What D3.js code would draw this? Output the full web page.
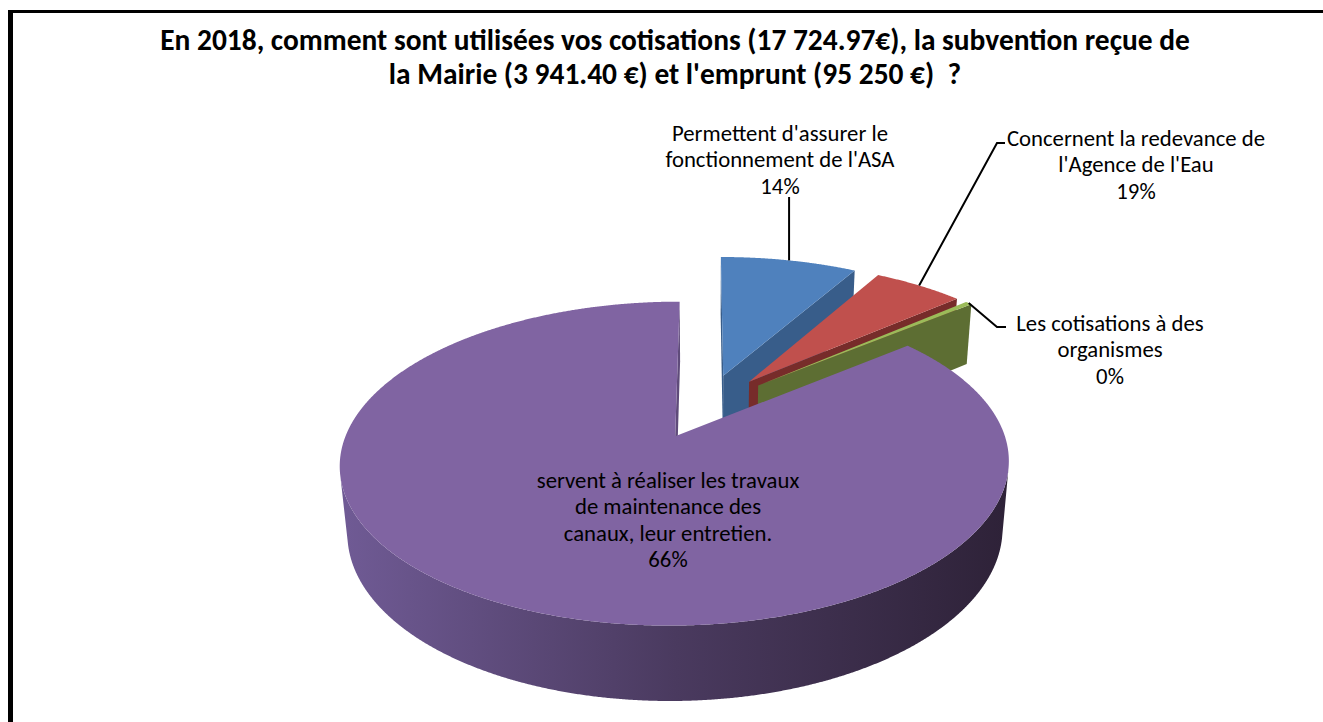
<!DOCTYPE html>
<html lang="fr">
<head>
<meta charset="UTF-8">
<title>Utilisation des cotisations 2018</title>
<script src="https://d3js.org/d3.v7.min.js"></script>
<style>
  body { margin: 0; background: #fff; font-family: Carlito, Calibri, Lato, sans-serif; }
  .title { font-weight: bold; fill: #000; white-space: pre; }
  .lbl { fill: #000; }
  .leader { fill: none; stroke: #000; stroke-width: 2px; }
</style>
</head>
<body>
<svg width="1323" height="722"></svg>
<script>
// data (slices clockwise from 12 o'clock)
const categories = [
  "Permettent d'assurer le fonctionnement de l'ASA",
  "Concernent la redevance de l'Agence de l'Eau",
  "Les cotisations à des organismes",
  "servent à réaliser les travaux de maintenance des canaux, leur entretien."
];
// slice sizes as drawn in the picture (% of the circle)
const shares = [8.2, 5.4, 0.4, 86.0];
// percentages printed on the data labels
const pctLabels = ["14%", "19%", "0%", "66%"];
const labelLines = [
  ["Permettent d'assurer le", "fonctionnement de l'ASA"],
  ["Concernent la redevance de", "l'Agence de l'Eau"],
  ["Les cotisations à des", "organismes"],
  ["servent à réaliser les travaux", "de maintenance des", "canaux, leur entretien."]
];
const titleLines = [
  "En 2018, comment sont utilisées vos cotisations (17 724.97€), la subvention reçue de",
  "la Mairie (3 941.40 €) et l'emprunt (95 250 €)  ?"
];

const topColors  = ["#4F81BD", "#C0504D", "#9BBB59", "#8064A2"];
const sideColors = ["#385D8A", "#772C2A", "#5D6E33", "#5F4B7A"];

const svg = d3.select("svg");

// frame
svg.append("line").attr("x1", 10.5).attr("y1", 10).attr("x2", 10.5).attr("y2", 722)
  .attr("stroke", "#000").attr("stroke-width", 5);
svg.append("line").attr("x1", 8).attr("y1", 11.5).attr("x2", 1323).attr("y2", 11.5)
  .attr("stroke", "#000").attr("stroke-width", 3);

// title, sized so the first line spans like the original
const title = svg.append("g");
titleLines.forEach((t, i) => {
  title.append("text").attr("class", "title")
    .attr("x", 675).attr("y", 50 + i * 34)
    .attr("text-anchor", "middle")
    .style("font-size", "22px")
    .text(t);
});
const tw = title.select("text").node().getComputedTextLength();
title.selectAll("text").style("font-size", (22 * 1030 / tw).toFixed(2) + "px");

// 3D perspective pie
const cx = 706, cy = 406, R = 319, H = 75, D = 1730, explode = 70;
const phi = 27.5 * Math.PI / 180;
const sinP = Math.sin(phi), cosP = Math.cos(phi);
const cam = [0, D * sinP, -D * cosP];

function project(X, Y, Z) {
  const v = Y * cosP + Z * sinP;
  const d = Z * cosP - Y * sinP;
  const s = D / (D + d);
  return [cx + X * s, cy - v * s];
}
function facing(n, p) {
  return n[0] * (cam[0] - p[0]) + n[1] * (cam[1] - p[1]) + n[2] * (cam[2] - p[2]) > 0;
}

const pie = d3.pie().sort(null).value(d => d);
const slices = pie(shares).map((a, i) => {
  const t0 = Math.PI / 2 - a.endAngle, t1 = Math.PI / 2 - a.startAngle;
  const tm = (t0 + t1) / 2;
  return { i, t0, t1, tm, ox: explode * Math.cos(tm), oz: explode * Math.sin(tm) };
});

const pt = (s, r, t, Y) => project(s.ox + r * Math.cos(t), Y, s.oz + r * Math.sin(t));
const poly = d3.line();
const closed = pts => poly(pts) + "Z";

const defs = svg.append("defs");
const grad = defs.append("linearGradient").attr("id", "wall")
  .attr("gradientUnits", "userSpaceOnUse")
  .attr("x1", cx - R - 40).attr("x2", cx + R - 20).attr("y1", 0).attr("y2", 0);
grad.append("stop").attr("offset", 0).attr("stop-color", "#6F5A94");
grad.append("stop").attr("offset", 0.5).attr("stop-color", "#4A3A5F");
grad.append("stop").attr("offset", 1).attr("stop-color", "#2E2238");

const pieG = svg.append("g");

function arcPts(s, a, b, Y) {
  const n = Math.max(2, Math.ceil(Math.abs(b - a) / 0.004));
  return d3.range(n + 1).map(k => pt(s, R, a + (b - a) * k / n, Y));
}

// farthest slice first
slices.slice().sort((a, b) => b.oz - a.oz).forEach(s => {
  const g = pieG.append("g");
  // outer wall, visible runs only
  const n = Math.max(2, Math.ceil((s.t1 - s.t0) / 0.004));
  let run = [];
  const runs = [];
  for (let k = 0; k <= n; k++) {
    const t = s.t0 + (s.t1 - s.t0) * k / n;
    const p = [s.ox + R * Math.cos(t), -H / 2, s.oz + R * Math.sin(t)];
    if (facing([Math.cos(t), 0, Math.sin(t)], p)) run.push(t);
    else if (run.length) { runs.push(run); run = []; }
  }
  if (run.length) runs.push(run);
  runs.forEach(r => {
    if (r.length < 2) return;
    const top = r.map(t => pt(s, R, t, 0));
    const bot = r.map(t => pt(s, R, t, -H)).reverse();
    g.append("path").attr("d", closed(top.concat(bot)))
      .attr("fill", s.i === 3 ? "url(#wall)" : sideColors[s.i]);
  });
  // radial cut faces
  [[s.t0, [Math.sin(s.t0), 0, -Math.cos(s.t0)]], [s.t1, [-Math.sin(s.t1), 0, Math.cos(s.t1)]]]
    .forEach(([t, nrm]) => {
      const mid = [s.ox + R / 2 * Math.cos(t), -H / 2, s.oz + R / 2 * Math.sin(t)];
      if (!facing(nrm, mid)) return;
      g.append("path")
        .attr("d", closed([pt(s, 0, t, 0), pt(s, R, t, 0), pt(s, R, t, -H), pt(s, 0, t, -H)]))
        .attr("fill", sideColors[s.i]);
    });
  // top face
  g.append("path")
    .attr("d", closed([pt(s, 0, 0, 0)].concat(arcPts(s, s.t0, s.t1, 0))))
    .attr("fill", topColors[s.i]);
});

// data labels
const lineH = 26.3;
const labelLayout = [
  { x: 780, y: 141, leader: a => [a, [a[0], 197]] },
  { x: 1136, y: 146, leader: a => [a, [997, 143], [1005, 143]] },
  { x: 1110, y: 331, leader: a => [a, [997, 327], [1006, 327]] },
  { x: 668, y: 488, leader: null }
];

const labels = svg.append("g");
slices.forEach(s => {
  const L = labelLayout[s.i];
  if (L.leader) {
    const anchor = pt(s, R, s.tm, 0);
    labels.append("path").attr("class", "leader").attr("d", poly(L.leader(anchor)));
  }
  const lines = labelLines[s.i].concat([pctLabels[s.i]]);
  lines.forEach((t, k) => {
    labels.append("text").attr("class", "lbl")
      .attr("x", L.x).attr("y", L.y + k * lineH)
      .attr("text-anchor", "middle")
      .style("font-size", "17px")
      .text(t);
  });
});
const lw = labels.select("text").node().getComputedTextLength();
labels.selectAll("text").style("font-size", (17 * 216 / lw).toFixed(2) + "px");
</script>
</body>
</html>
